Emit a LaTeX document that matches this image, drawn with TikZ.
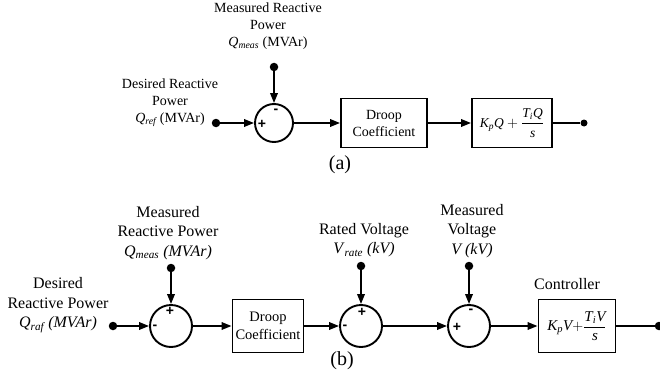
\documentclass[tikz,border=0pt]{standalone}
\usepackage{amsmath}
\usepackage{fontspec}
\setmainfont{Liberation Serif}
\newfontfamily\signfont{Liberation Sans}
\usetikzlibrary{arrows.meta}
\newcommand\ti[1]{\textit{#1}}
\begin{document}
\begin{tikzpicture}[x=1pt,y=-1pt,
  wire/.style={line width=1.9pt},
  arr/.style={wire,-{Triangle[length=10pt,width=7.5pt]}},
  dotn/.style={circle,fill=black,inner sep=0pt,minimum size=8.5pt},
  sumA/.style={circle,draw,line width=1.9pt,minimum size=38pt,inner sep=0pt},
  sumB/.style={circle,draw,line width=1.9pt,minimum size=42pt,inner sep=0pt},
  blk/.style={draw,line width=1.9pt,align=center,inner sep=0pt},
  lblA/.style={align=center,font=\fontsize{14}{17}\selectfont},
  lblB/.style={align=center,font=\fontsize{16}{19.5}\selectfont},
  sgn/.style={font=\signfont\bfseries\fontsize{14}{14}\selectfont,inner sep=0pt},
  captext/.style={font=\fontsize{20}{22}\selectfont}]
\useasboundingbox (0,0) rectangle (660,377);
% ---------- (a) ----------
\node[sumA] (s1) at (274,123) {};
\node[dotn] (qref) at (216,123) {};
\node[dotn] (qmeas) at (274,67) {};
\node[blk,minimum width=86pt,minimum height=49pt,font=\fontsize{14}{17}\selectfont] (d1) at (384,123) {Droop\\Coefficient};
\node[blk,minimum width=80pt,minimum height=49pt,font=\fontsize{13.5}{16}\selectfont] (c1) at (512,123) {$\displaystyle\ti{K}_{\ti{p}}\ti{Q} + \frac{\ti{T}_{\ti{i}}\ti{Q}}{\ti{s}}$};
\node[dotn,minimum size=7pt] (o1) at (584,123) {};
\node[lblA] (tm1) at (268,26) {Measured Reactive\\Power\\\ti{Q}$_{\ti{meas}}$ (MVAr)};
\node[lblA] (td1) at (170,103) {Desired Reactive\\Power\\\ti{Q}$_{\ti{ref}}$ (MVAr)};
\node[sgn] (p1) at (262,124) {+};
\node[sgn] (m1) at (276,111) {-};
\node[captext] (ca) at (340,165) {(a)};
\draw[arr] (qref) -- (s1);
\draw[arr] (qmeas) -- (s1);
\draw[arr] (s1) -- (d1);
\draw[arr] (d1) -- (c1);
\draw[wire] (c1) -- (o1);
% ---------- (b) ----------
\node[sumB] (s2) at (171,326) {};
\node[dotn] (qraf) at (113,326) {};
\node[dotn] (qm2) at (171,268) {};
\node[lblB] (tm2) at (168,233) {Measured\\Reactive Power\\\ti{Q}$_{\ti{meas}}$ \ti{(MVAr)}};
\node[lblB] (td2) at (58,305) {Desired\\Reactive Power\\\ti{Q}$_{\ti{raf}}$ \ti{(MVAr)}};
\node[blk,minimum width=71pt,minimum height=53pt,font=\fontsize{14.5}{18}\selectfont] (d2) at (268,326) {Droop\\Coefficient};
\node[sumB] (s3) at (361,326) {};
\node[dotn] (vr) at (361,266) {};
\node[lblB] (tr) at (364,240) {Rated Voltage\\\ti{V}$_{\ti{rate}}$ \ti{(kV)}};
\node[sumB] (s4) at (469,326) {};
\node[dotn] (vm) at (469,266) {};
\node[lblB] (tv) at (472,231) {Measured\\Voltage\\\ti{V (kV)}};
\node[blk,minimum width=77pt,minimum height=53pt,font=\fontsize{15}{18}\selectfont] (c2) at (577,326) {$\displaystyle\ti{K}_{\ti{p}}\ti{V}{+}\frac{\ti{T}_{\ti{i}}\ti{V}}{\ti{s}}$};
\node[lblB] (tc) at (567,284) {Controller};
\node[dotn] (o2) at (659,326) {};
\node[sgn] (m2) at (155,327) {-};
\node[sgn] (p2) at (170,311) {+};
\node[sgn] (m3) at (345,327) {-};
\node[sgn] (p3) at (362,312) {+};
\node[sgn] (p4) at (457,327) {+};
\node[sgn] (m4) at (471,311) {-};
\node[captext] (cb) at (342,361) {(b)};
\draw[arr] (qraf) -- (s2);
\draw[arr] (qm2) -- (s2);
\draw[arr] (s2) -- (d2);
\draw[arr] (d2) -- (s3);
\draw[arr] (vr) -- (s3);
\draw[arr] (s3) -- (s4);
\draw[arr] (vm) -- (s4);
\draw[arr] (s4) -- (c2);
\draw[wire] (c2) -- (o2);
\end{tikzpicture}
\end{document}
